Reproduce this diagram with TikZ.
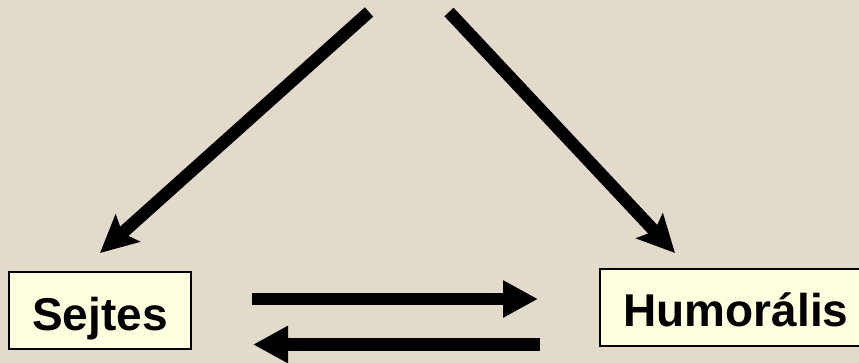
\documentclass[tikz,border=0pt]{standalone}
\usepackage{fontspec}
\setmainfont{Liberation Sans}
\usetikzlibrary{arrows.meta}
\definecolor{bgbeige}{RGB}{226,218,203}
\definecolor{boxfill}{RGB}{255,255,224}
\tikzset{
  labelbox/.style={draw=black, line width=1.5pt, fill=boxfill, inner sep=0pt,
    font=\fontsize{46}{50}\selectfont\bfseries, text=black},
  bigarrow/.style={line width=12.5pt, -{Triangle[length=35pt,width=35pt]}},
  diagarrow/.style={line width=12.5pt, -{Stealth[length=37pt,width=36pt,inset=7pt]}}
}
\begin{document}
\begin{tikzpicture}[x=1pt,y=-1pt]
  \fill[bgbeige] (0,0) rectangle (859,363);
  \useasboundingbox (0,0) rectangle (859,363);
  % boxes
  \node[labelbox, minimum width=182pt, minimum height=77pt, text height=58pt, text depth=19pt]
    (sejtes) at (100,310.5) {Sejtes};
  \node[labelbox, minimum width=272pt, minimum height=77pt, text height=57pt, text depth=20pt]
    (humor) at (736,307.5) {Humorális};
  % free ends
  \coordinate (topL) at (369,12);
  \coordinate (topR) at (449,12);
  \coordinate (tipL) at (100,253);
  \coordinate (tipR) at (675,253);
  \coordinate (hTopS) at (252,299);
  \coordinate (hTopE) at (538,299);
  \coordinate (hBotS) at (540,344.5);
  \coordinate (hBotE) at (253,344.5);
  % connectors
  \draw[diagarrow] (topL) -- (tipL);
  \draw[diagarrow] (topR) -- (tipR);
  \draw[bigarrow] (hTopS) -- (hTopE);
  \draw[bigarrow] (hBotS) -- (hBotE);
\end{tikzpicture}
\end{document}
